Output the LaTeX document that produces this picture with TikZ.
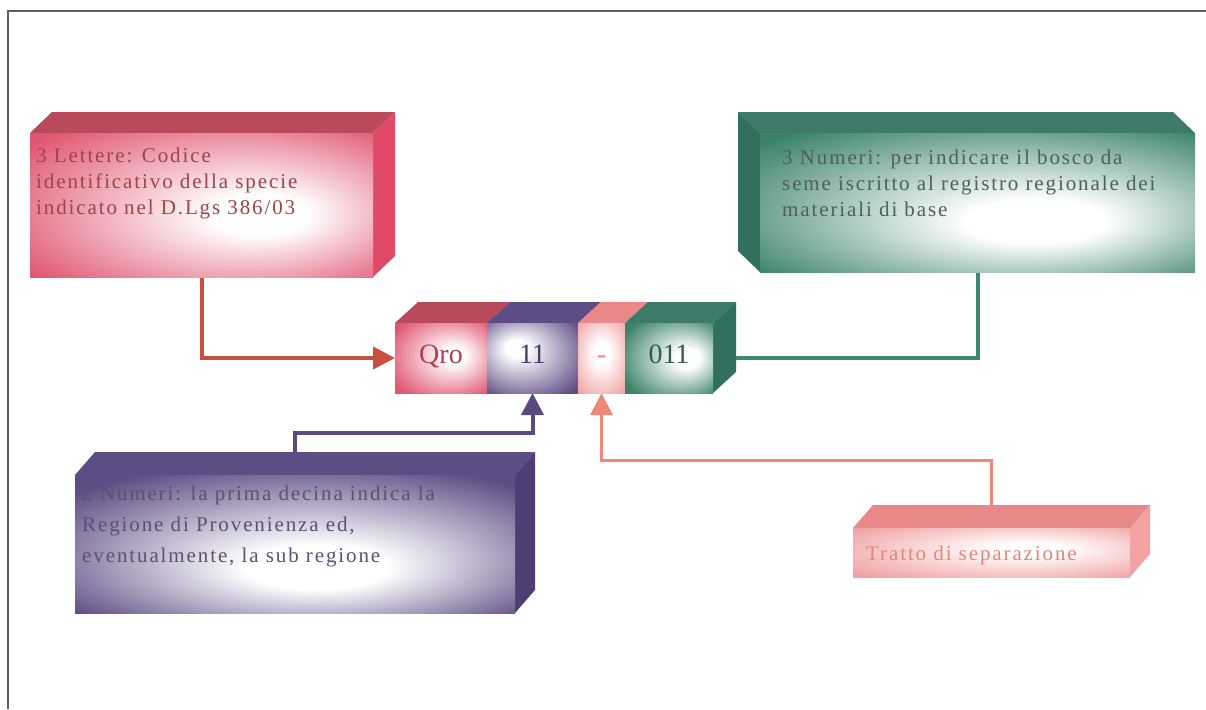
\documentclass[tikz,border=0pt]{standalone}
\usepackage{fontspec}
\setmainfont{Liberation Serif}
\newfontfamily\spfont[LetterSpace=9]{Liberation Serif}
\usetikzlibrary{calc,arrows.meta}

\definecolor{framec}{HTML}{606060}
\definecolor{redtop}{HTML}{B84A5C}
\definecolor{redside}{HTML}{E04A68}
\definecolor{redfr}{HTML}{E05570}
\definecolor{redline}{HTML}{C8503E}
\definecolor{redtext}{HTML}{A04444}
\definecolor{grtop}{HTML}{3E7A6A}
\definecolor{grside}{HTML}{31705F}
\definecolor{grfr}{HTML}{3A8268}
\definecolor{grline}{HTML}{3F8876}
\definecolor{grtext}{HTML}{4E6058}
\definecolor{putop}{HTML}{5E4C84}
\definecolor{puside}{HTML}{4E3E74}
\definecolor{pufr}{HTML}{5E4C84}
\definecolor{puline}{HTML}{5A4A80}
\definecolor{putext}{HTML}{5E5070}
\definecolor{pktop}{HTML}{E88888}
\definecolor{pkside}{HTML}{F2A2A2}
\definecolor{pkfr}{HTML}{F0A0A0}
\definecolor{pkline}{HTML}{F08878}
\definecolor{pktext}{HTML}{E08878}
\definecolor{qrotext}{HTML}{B04050}
\definecolor{elevtext}{HTML}{4A3C68}
\definecolor{ozotext}{HTML}{2E5E50}

\pgfdeclareradialshading{shRed}{\pgfpoint{10bp}{-4bp}}{color(0bp)=(white); color(7bp)=(white); color(36bp)=(redfr); color(50bp)=(redfr)}
\pgfdeclareradialshading{shGreen}{\pgfpoint{8bp}{-8bp}}{color(0bp)=(white); color(8bp)=(white); color(36bp)=(grfr); color(50bp)=(grfr)}
\pgfdeclareradialshading{shPurple}{\pgfpoint{3bp}{-10bp}}{color(0bp)=(white); color(8bp)=(white); color(34bp)=(pufr); color(50bp)=(pufr)}
\pgfdeclareradialshading{shPink}{\pgfpoint{8bp}{4bp}}{color(0bp)=(white); color(6bp)=(white); color(36bp)=(pkfr); color(50bp)=(pkfr)}
\pgfdeclareradialshading{shQro}{\pgfpoint{8bp}{2bp}}{color(0bp)=(white); color(6bp)=(white); color(34bp)=(redfr); color(50bp)=(redfr)}
\pgfdeclareradialshading{shEleven}{\pgfpoint{-10bp}{8bp}}{color(0bp)=(white); color(6bp)=(white); color(36bp)=(pufr); color(50bp)=(pufr)}
\pgfdeclareradialshading{shDash}{\pgfpoint{0bp}{4bp}}{color(0bp)=(white); color(8bp)=(white); color(36bp)=(pkfr); color(50bp)=(pkfr)}
\pgfdeclareradialshading{shOzo}{\pgfpoint{12bp}{0bp}}{color(0bp)=(white); color(7bp)=(white); color(34bp)=(grfr); color(50bp)=(grfr)}

% #1 node, #2 dx, #3 dy, #4 top colour, #5 side colour, #6 side (east/west)
\newcommand{\boxfaces}[6]{%
  \fill[#4] (#1.north west) -- ++(#2,#3) -- ($(#1.north east)+(#2,#3)$) -- (#1.north east) -- cycle;
  \fill[#5] (#1.north #6) -- ++(#2,#3) -- ($(#1.south #6)+(#2,#3)$) -- (#1.south #6) -- cycle;
}
\newcommand{\topface}[4]{%
  \fill[#4] (#1.north west) -- ++(#2,#3) -- ($(#1.north east)+(#2,#3)$) -- (#1.north east) -- cycle;
}

\tikzset{
  geom/.style={inner sep=0pt, outer sep=0pt},
  txt/.style={inner sep=0pt, align=left, anchor=north west, font=\spfont\fontsize{21}{26}\selectfont},
  code/.style={inner sep=0pt, anchor=base, font=\fontsize{28}{30}\selectfont},
  conn/.style={line width=4pt},
  tip/.style={-{Triangle[width=22pt,length=22pt]}}
}

\begin{document}
\begin{tikzpicture}[x=1pt, y=-1pt]
\fill[white] (0,0) rectangle (1206,709);
\useasboundingbox (0,0) rectangle (1206,709);

% frame
\draw[framec, line width=2pt] (8,709) -- (8,11) -- (1206,11);

% geometry nodes
\node[geom, minimum width=343pt, minimum height=144pt] (lettere) at (201.5,205) {};
\node[geom, minimum width=435pt, minimum height=139pt] (bosco) at (977.5,202.5) {};
\node[geom, minimum width=440pt, minimum height=138pt] (numeri) at (295,544) {};
\node[geom, minimum width=277pt, minimum height=49pt] (tratto) at (991.5,552.5) {};
\node[geom, minimum width=92pt, minimum height=70pt] (qro) at (441,358) {};
\node[geom, minimum width=91pt, minimum height=70pt] (n11) at (532.5,358) {};
\node[geom, minimum width=47pt, minimum height=70pt] (ndash) at (601.5,358) {};
\node[geom, minimum width=88pt, minimum height=70pt] (n011) at (669,358) {};

% connectors
\draw[conn, redline, tip] (lettere.south) |- (qro.west);
\draw[conn, grline] (bosco.south) |- (n011.east);
\draw[conn, puline, tip] (numeri.north) |- ($(n11.south)+(0,40)$) -- (n11.south);
\draw[conn, pkline, line width=3pt, tip] (tratto.north) |- ($(ndash.south)+(0,67)$) -- (ndash.south);

% boxes
\boxfaces{lettere}{22}{-21}{redtop}{redside}{east}
\shade[shading=shRed] (lettere.north west) rectangle (lettere.south east);
\boxfaces{bosco}{-22}{-21}{grtop}{grside}{west}
\shade[shading=shGreen] (bosco.north west) rectangle (bosco.south east);
\boxfaces{numeri}{20}{-23}{putop}{puside}{east}
\shade[shading=shPurple] (numeri.north west) rectangle (numeri.south east);
\boxfaces{tratto}{20}{-23}{pktop}{pkside}{east}
\shade[shading=shPink] (tratto.north west) rectangle (tratto.south east);

% central code block
\topface{qro}{23}{-21}{redtop}
\topface{n11}{23}{-21}{putop}
\topface{ndash}{23}{-21}{pktop}
\boxfaces{n011}{23}{-21}{grtop}{grside}{east}
\shade[shading=shQro] (qro.north west) rectangle (qro.south east);
\shade[shading=shEleven] (n11.north west) rectangle (n11.south east);
\shade[shading=shDash] (ndash.north west) rectangle (ndash.south east);
\shade[shading=shOzo] (n011.north west) rectangle (n011.south east);

% texts
\node[txt, text=redtext] (lettere-t) at (36,148) {3 Lettere: Codice\\identificativo della specie\\indicato nel D.Lgs 386/03};
\node[txt, text=grtext] (bosco-t) at (782,150) {3 Numeri: per indicare il bosco da\\seme iscritto al registro regionale dei\\materiali di base};
\node[txt, text=putext, font=\spfont\fontsize{21}{31}\selectfont] (numeri-t) at (82,486) {2 Numeri: la prima decina indica la\\Regione di Provenienza ed,\\eventualmente, la sub regione};
\node[txt, text=pktext] (tratto-t) at (866,546) {Tratto di separazione};

\node[code, text=qrotext] (qro-t) at ($(qro.center)+(0,5)$) {Qro};
\node[code, text=elevtext] (n11-t) at ($(n11.center)+(0,5)$) {11};
\node[code, text=pktop] (ndash-t) at ($(ndash.center)+(0,5)$) {-};
\node[code, text=ozotext] (n011-t) at ($(n011.center)+(0,5)$) {011};
\end{tikzpicture}
\end{document}
